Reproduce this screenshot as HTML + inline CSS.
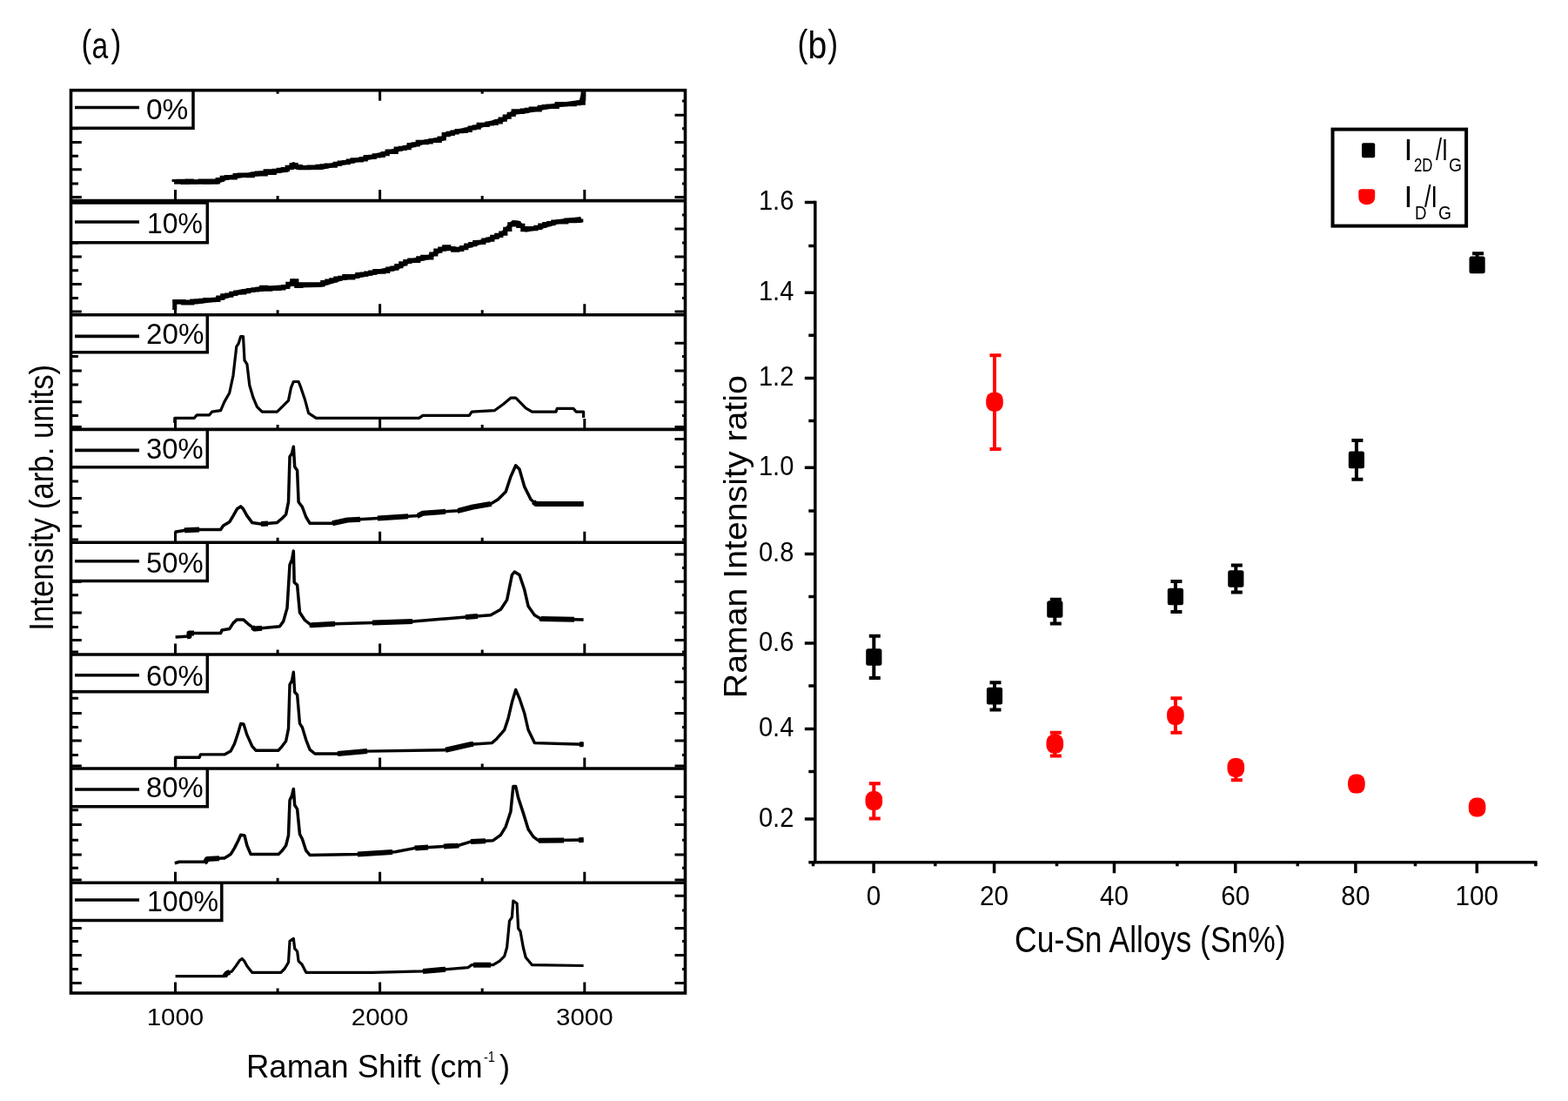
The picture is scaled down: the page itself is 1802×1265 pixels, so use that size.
<!DOCTYPE html>
<html><head><meta charset="utf-8"><title>Raman figure</title>
<style>html,body{margin:0;padding:0;background:#fff;}svg{display:block;}text{font-family:'Liberation Sans', Arial, sans-serif;fill:#000;}</style>
</head><body>
<svg width="1802" height="1265" viewBox="0 0 1802 1265">
<rect width="1802" height="1265" fill="#fff"/>
<path d="M81.5,132.2h12.3M787.5,132.2h-12M81.5,163.5h12.3M787.5,163.5h-12M81.5,194.8h12.3M787.5,194.8h-12M81.5,226.5h12.3M787.5,226.5h-12M81.5,116.0h8.5M787.5,116.0h-3.5M81.5,147.8h8.5M787.5,147.8h-3.5M81.5,179.2h8.5M787.5,179.2h-3.5M81.5,211.0h8.5M787.5,211.0h-3.5M81.5,263.0h12.3M787.5,263.0h-12M81.5,295.0h12.3M787.5,295.0h-12M81.5,326.6h12.3M787.5,326.6h-12M81.5,357.9h12.3M787.5,357.9h-12M81.5,247.0h8.5M787.5,247.0h-3.5M81.5,279.0h8.5M787.5,279.0h-3.5M81.5,310.8h8.5M787.5,310.8h-3.5M81.5,342.4h8.5M787.5,342.4h-3.5M81.5,394.2h12.3M787.5,394.2h-12M81.5,426.0h12.3M787.5,426.0h-12M81.5,461.8h12.3M787.5,461.8h-12M81.5,490.5h12.3M787.5,490.5h-12M81.5,409.6h8.5M787.5,409.6h-3.5M81.5,442.0h8.5M787.5,442.0h-3.5M81.5,477.5h8.5M787.5,477.5h-3.5M81.5,504.6h12.3M787.5,504.6h-12M81.5,536.6h12.3M787.5,536.6h-12M81.5,572.6h12.3M787.5,572.6h-12M81.5,604.4h12.3M787.5,604.4h-12M81.5,521.2h8.5M787.5,521.2h-3.5M81.5,553.0h8.5M787.5,553.0h-3.5M81.5,588.8h8.5M787.5,588.8h-3.5M81.5,620.0h8.5M787.5,620.0h-3.5M81.5,637.0h12.3M787.5,637.0h-12M81.5,668.3h12.3M787.5,668.3h-12M81.5,703.9h12.3M787.5,703.9h-12M81.5,735.4h12.3M787.5,735.4h-12M81.5,652.5h8.5M787.5,652.5h-3.5M81.5,683.7h8.5M787.5,683.7h-3.5M81.5,720.5h8.5M787.5,720.5h-3.5M81.5,749.0h8.5M787.5,749.0h-3.5M81.5,783.4h12.3M787.5,783.4h-12M81.5,819.4h12.3M787.5,819.4h-12M81.5,851.0h12.3M787.5,851.0h-12M81.5,880.0h12.3M787.5,880.0h-12M81.5,768.0h8.5M787.5,768.0h-3.5M81.5,802.3h8.5M787.5,802.3h-3.5M81.5,835.6h8.5M787.5,835.6h-3.5M81.5,867.6h8.5M787.5,867.6h-3.5M81.5,915.4h12.3M787.5,915.4h-12M81.5,947.4h12.3M787.5,947.4h-12M81.5,981.9h12.3M787.5,981.9h-12M81.5,1011.0h12.3M787.5,1011.0h-12M81.5,930.8h8.5M787.5,930.8h-3.5M81.5,965.2h8.5M787.5,965.2h-3.5M81.5,997.3h8.5M787.5,997.3h-3.5M81.5,1029.3h12.3M787.5,1029.3h-12M81.5,1066.5h12.3M787.5,1066.5h-12M81.5,1097.5h12.3M787.5,1097.5h-12M81.5,1129.6h12.3M787.5,1129.6h-12M81.5,1045.9h8.5M787.5,1045.9h-3.5M81.5,1081.5h8.5M787.5,1081.5h-3.5M81.5,1113.5h8.5M787.5,1113.5h-3.5M201.5,230.6v-12.5M436.6,230.6v-12.5M671.8,230.6v-12.5M319.1,230.6v-5.5M554.2,230.6v-5.5M201.5,361.7v-12.5M436.6,361.7v-12.5M671.8,361.7v-12.5M319.1,361.7v-5.5M554.2,361.7v-5.5M201.5,493.4v-12.5M436.6,493.4v-12.5M671.8,493.4v-12.5M319.1,493.4v-5.5M554.2,493.4v-5.5M201.5,623.2v-12.5M436.6,623.2v-12.5M671.8,623.2v-12.5M319.1,623.2v-5.5M554.2,623.2v-5.5M201.5,752.0v-12.5M436.6,752.0v-12.5M671.8,752.0v-12.5M319.1,752.0v-5.5M554.2,752.0v-5.5M201.5,883.0v-12.5M436.6,883.0v-12.5M671.8,883.0v-12.5M319.1,883.0v-5.5M554.2,883.0v-5.5M201.5,1014.2v-12.5M436.6,1014.2v-12.5M671.8,1014.2v-12.5M319.1,1014.2v-5.5M554.2,1014.2v-5.5M201.5,1141.0v-12.5M436.6,1141.0v-12.5M671.8,1141.0v-12.5M319.1,1141.0v-5.5M554.2,1141.0v-5.5M201.5,103.7v12M436.6,103.7v12M671.8,103.7v12M319.1,103.7v4M554.2,103.7v4" stroke="#000" stroke-width="3" fill="none"/>
<rect x="81.5" y="103.7" width="140.5" height="43.6" fill="#fff"/>
<path d="M81.5,147.3H222.0V103.7" fill="none" stroke="#000" stroke-width="3.5"/>
<line x1="86" y1="123.5" x2="160" y2="123.5" stroke="#000" stroke-width="3.6"/>
<text x="168" y="137.0" font-size="33.5" textLength="48.4" lengthAdjust="spacingAndGlyphs">0%</text>
<rect x="81.5" y="230.6" width="156.8" height="48.2" fill="#fff"/>
<path d="M81.5,278.8H238.3V230.6" fill="none" stroke="#000" stroke-width="3.5"/>
<line x1="81.5" y1="233.2" x2="240.0" y2="233.2" stroke="#000" stroke-width="3"/>
<line x1="86" y1="255.0" x2="160" y2="255.0" stroke="#000" stroke-width="3.6"/>
<text x="169" y="268.3" font-size="33.5" textLength="64.0" lengthAdjust="spacingAndGlyphs">10%</text>
<rect x="81.5" y="361.7" width="156.8" height="43.1" fill="#fff"/>
<path d="M81.5,404.8H238.3V361.7" fill="none" stroke="#000" stroke-width="3.5"/>
<line x1="86" y1="386.4" x2="160" y2="386.4" stroke="#000" stroke-width="3.6"/>
<text x="168" y="394.8" font-size="33.5" textLength="66.4" lengthAdjust="spacingAndGlyphs">20%</text>
<rect x="81.5" y="493.4" width="156.8" height="43.4" fill="#fff"/>
<path d="M81.5,536.8H238.3V493.4" fill="none" stroke="#000" stroke-width="3.5"/>
<line x1="86" y1="517.4" x2="160" y2="517.4" stroke="#000" stroke-width="3.6"/>
<text x="168" y="526.6" font-size="33.5" textLength="65.7" lengthAdjust="spacingAndGlyphs">30%</text>
<rect x="81.5" y="623.2" width="156.8" height="44.4" fill="#fff"/>
<path d="M81.5,667.6H238.3V623.2" fill="none" stroke="#000" stroke-width="3.5"/>
<line x1="86" y1="644.7" x2="160" y2="644.7" stroke="#000" stroke-width="3.6"/>
<text x="168" y="657.8" font-size="33.5" textLength="65.7" lengthAdjust="spacingAndGlyphs">50%</text>
<rect x="81.5" y="752.0" width="156.8" height="42.8" fill="#fff"/>
<path d="M81.5,794.8H238.3V752.0" fill="none" stroke="#000" stroke-width="3.5"/>
<line x1="86" y1="775.8" x2="160" y2="775.8" stroke="#000" stroke-width="3.6"/>
<text x="168" y="788.2" font-size="33.5" textLength="65.7" lengthAdjust="spacingAndGlyphs">60%</text>
<rect x="81.5" y="883.0" width="156.8" height="43.8" fill="#fff"/>
<path d="M81.5,926.8H238.3V883.0" fill="none" stroke="#000" stroke-width="3.5"/>
<line x1="86" y1="907.0" x2="160" y2="907.0" stroke="#000" stroke-width="3.6"/>
<text x="168" y="915.5" font-size="33.5" textLength="65.7" lengthAdjust="spacingAndGlyphs">80%</text>
<rect x="81.5" y="1014.2" width="173.3" height="43.4" fill="#fff"/>
<path d="M81.5,1057.6H254.8V1014.2" fill="none" stroke="#000" stroke-width="3.5"/>
<line x1="86" y1="1034.0" x2="160" y2="1034.0" stroke="#000" stroke-width="3.6"/>
<text x="169" y="1047.2" font-size="33.5" textLength="82.2" lengthAdjust="spacingAndGlyphs">100%</text>
<path d="M200.2,209.1 L249.3,209.1 L260.8,203.9 L295.4,199.6 L330.0,195.2 L337.3,188.5 L341.6,192.4 L370.5,192.4 L399.3,186.0 L425.3,180.8 L457.0,172.2 L485.9,163.5 L509.0,159.2 L511.9,154.4 L540.7,147.6 L578.3,137.5 L589.8,129.4 L607.0,127.4 L636.0,121.6 L667.7,117.3 L670.6,107.5" fill="none" stroke="#000" stroke-width="5" stroke-linejoin="round"/>
<path d="M200.2,209.1 L200.2,208.7 L205.2,208.7 L205.2,208.3 L210.2,208.3 L210.2,209.5 L215.2,209.5 L215.2,208.1 L220.2,208.1 L220.2,209.2 L225.2,209.2 L225.2,208.8 L230.2,208.8 L230.2,208.0 L235.2,208.0 L235.2,209.1 L240.2,209.1 L240.2,208.0 L245.2,208.0 L245.2,208.9 L250.2,208.9 L250.2,206.5 L255.2,206.5 L255.2,204.3 L260.2,204.3 L260.2,203.5 L265.2,203.5 L265.2,203.8 L270.2,203.8 L270.2,201.5 L275.2,201.5 L275.2,201.1 L280.2,201.1 L280.2,201.5 L285.2,201.5 L285.2,201.6 L290.2,201.6 L290.2,200.1 L295.2,200.1 L295.2,199.1 L300.2,199.1 L300.2,199.8 L305.2,199.8 L305.2,196.9 L310.2,196.9 L310.2,198.3 L315.2,198.3 L315.2,196.3 L320.2,196.3 L320.2,195.3 L325.2,195.3 L325.2,194.6 L330.2,194.6 L330.2,192.3 L335.2,192.3 L335.2,189.6 L340.2,189.6 L340.2,191.6 L345.2,191.6 L345.2,192.6 L350.2,192.6 L350.2,192.7 L355.2,192.7 L355.2,192.1 L360.2,192.1 L360.2,192.5 L365.2,192.5 L365.2,191.4 L370.2,191.4 L370.2,190.9 L375.2,190.9 L375.2,190.1 L380.2,190.1 L380.2,190.1 L385.2,190.1 L385.2,188.4 L390.2,188.4 L390.2,187.0 L395.2,187.0 L395.2,186.6 L400.2,186.6 L400.2,185.2 L405.2,185.2 L405.2,183.8 L410.2,183.8 L410.2,184.0 L415.2,184.0 L415.2,182.8 L420.2,182.8 L420.2,180.7 L425.2,180.7 L425.2,180.3 L430.2,180.3 L430.2,178.9 L435.2,178.9 L435.2,178.3 L440.2,178.3 L440.2,176.6 L445.2,176.6 L445.2,174.2 L450.2,174.2 L450.2,174.5 L455.2,174.5 L455.2,171.1 L460.2,171.1 L460.2,170.3 L465.2,170.3 L465.2,169.6 L470.2,169.6 L470.2,166.6 L475.2,166.6 L475.2,165.9 L480.2,165.9 L480.2,163.4 L485.2,163.4 L485.2,163.6 L490.2,163.6 L490.2,162.9 L495.2,162.9 L495.2,161.5 L500.2,161.5 L500.2,161.3 L505.2,161.3 L505.2,159.0 L510.2,159.0 L510.2,154.7 L515.2,154.7 L515.2,153.3 L520.2,153.3 L520.2,152.0 L525.2,152.0 L525.2,150.6 L530.2,150.6 L530.2,150.3 L535.2,150.3 L535.2,149.4 L540.2,149.4 L540.2,147.0 L545.2,147.0 L545.2,146.1 L550.2,146.1 L550.2,143.3 L555.2,143.3 L555.2,143.5 L560.2,143.5 L560.2,142.0 L565.2,142.0 L565.2,141.5 L570.2,141.5 L570.2,139.8 L575.2,139.8 L575.2,137.1 L580.2,137.1 L580.2,134.1 L585.2,134.1 L585.2,131.3 L590.2,131.3 L590.2,127.9 L595.2,127.9 L595.2,128.4 L600.2,128.4 L600.2,127.1 L605.2,127.1 L605.2,126.3 L610.2,126.3 L610.2,125.2 L615.2,125.2 L615.2,125.9 L620.2,125.9 L620.2,123.4 L625.2,123.4 L625.2,122.7 L630.2,122.7 L630.2,122.0 L635.2,122.0 L635.2,122.3 L640.2,122.3 L640.2,119.7 L645.2,119.7 L645.2,119.9 L650.2,119.9 L650.2,119.5 L655.2,119.5 L655.2,119.6 L660.2,119.6 L660.2,118.7 L665.2,118.7 L665.2,118.2 L670.2,118.2 L670.2,107.6 L670.6,107.6 L670.6,107.5" fill="none" stroke="#000" stroke-width="5.2" stroke-linejoin="miter"/>
<path d="M200.8,356.0 L200.8,346.9 L226.2,346.9 L249.3,344.0 L275.2,335.3 L301.2,331.6 L330.0,329.6 L337.3,322.9 L343.0,328.1 L367.6,327.5 L393.6,319.5 L416.7,316.0 L434.0,312.3 L457.0,307.3 L468.6,300.7 L491.7,295.8 L510.4,284.8 L526.3,286.3 L549.4,279.1 L575.4,270.4 L589.8,255.4 L595.6,256.0 L604.2,264.0 L618.7,261.7 L641.8,254.5 L667.7,251.6" fill="none" stroke="#000" stroke-width="5" stroke-linejoin="round"/>
<path d="M200.8,346.9 L200.8,346.7 L205.8,346.7 L205.8,346.6 L210.8,346.6 L210.8,347.8 L215.8,347.8 L215.8,348.0 L220.8,348.0 L220.8,346.1 L225.8,346.1 L225.8,345.9 L230.8,345.9 L230.8,345.4 L235.8,345.4 L235.8,344.7 L240.8,344.7 L240.8,344.7 L245.8,344.7 L245.8,344.3 L250.8,344.3 L250.8,342.1 L255.8,342.1 L255.8,339.8 L260.8,339.8 L260.8,339.1 L265.8,339.1 L265.8,337.3 L270.8,337.3 L270.8,336.1 L275.8,336.1 L275.8,335.9 L280.8,335.9 L280.8,334.6 L285.8,334.6 L285.8,333.5 L290.8,333.5 L290.8,333.0 L295.8,333.0 L295.8,332.4 L300.8,332.4 L300.8,330.4 L305.8,330.4 L305.8,332.1 L310.8,332.1 L310.8,331.4 L315.8,331.4 L315.8,331.3 L320.8,331.3 L320.8,330.8 L325.8,330.8 L325.8,329.5 L330.8,329.5 L330.8,326.3 L335.8,326.3 L335.8,322.9 L340.8,322.9 L340.8,328.4 L345.8,328.4 L345.8,326.9 L350.8,326.9 L350.8,326.8 L355.8,326.8 L355.8,327.0 L360.8,327.0 L360.8,326.8 L365.8,326.8 L365.8,326.9 L370.8,326.9 L370.8,324.7 L375.8,324.7 L375.8,323.0 L380.8,323.0 L380.8,321.8 L385.8,321.8 L385.8,320.2 L390.8,320.2 L390.8,319.3 L395.8,319.3 L395.8,317.6 L400.8,317.6 L400.8,318.9 L405.8,318.9 L405.8,317.5 L410.8,317.5 L410.8,315.7 L415.8,315.7 L415.8,315.1 L420.8,315.1 L420.8,314.2 L425.8,314.2 L425.8,313.2 L430.8,313.2 L430.8,311.5 L435.8,311.5 L435.8,312.2 L440.8,312.2 L440.8,311.5 L445.8,311.5 L445.8,309.1 L450.8,309.1 L450.8,308.1 L455.8,308.1 L455.8,305.6 L460.8,305.6 L460.8,302.8 L465.8,302.8 L465.8,300.5 L470.8,300.5 L470.8,299.1 L475.8,299.1 L475.8,299.4 L480.8,299.4 L480.8,296.8 L485.8,296.8 L485.8,295.4 L490.8,295.4 L490.8,295.9 L495.8,295.9 L495.8,292.0 L500.8,292.0 L500.8,288.1 L505.8,288.1 L505.8,286.1 L510.8,286.1 L510.8,283.9 L515.8,283.9 L515.8,285.6 L520.8,285.6 L520.8,287.2 L525.8,287.2 L525.8,286.5 L530.8,286.5 L530.8,284.6 L535.8,284.6 L535.8,282.0 L540.8,282.0 L540.8,280.7 L545.8,280.7 L545.8,278.6 L550.8,278.6 L550.8,278.4 L555.8,278.4 L555.8,276.2 L560.8,276.2 L560.8,275.1 L565.8,275.1 L565.8,272.4 L570.8,272.4 L570.8,270.4 L575.8,270.4 L575.8,268.1 L580.8,268.1 L580.8,263.3 L585.8,263.3 L585.8,257.8 L590.8,257.8 L590.8,256.5 L595.8,256.5 L595.8,259.3 L600.8,259.3 L600.8,263.7 L605.8,263.7 L605.8,262.7 L610.8,262.7 L610.8,262.6 L615.8,262.6 L615.8,261.4 L620.8,261.4 L620.8,259.1 L625.8,259.1 L625.8,257.6 L630.8,257.6 L630.8,256.6 L635.8,256.6 L635.8,255.0 L640.8,255.0 L640.8,254.8 L645.8,254.8 L645.8,254.9 L650.8,254.9 L650.8,253.1 L655.8,253.1 L655.8,253.7 L660.8,253.7 L660.8,253.3 L665.8,253.3 L665.8,252.8 L667.7,252.8 L667.7,251.6" fill="none" stroke="#000" stroke-width="5.2" stroke-linejoin="miter"/>
<path d="M200.8,356L200.8,346.9" stroke="#000" stroke-width="4"/>
<path d="M200.8,486.0 L200.8,480.3 L223.3,480.3 L226.2,476.9 L240.6,476.9 L243.5,473.1 L253.6,471.7 L257.9,461.6 L263.7,451.5 L268.0,431.3 L271.8,398.1 L274.0,395.0 L276.7,386.5 L279.5,386.5 L281.0,414.0 L283.9,418.3 L286.8,442.8 L291.1,457.2 L295.4,467.3 L301.2,473.1 L318.5,473.1 L324.3,467.3 L331.5,460.1 L334.4,445.7 L337.3,438.5 L343.1,438.5 L345.9,445.7 L350.3,458.7 L354.6,474.6 L363.3,480.3 L434.0,480.3 L481.6,480.3 L485.9,477.4 L539.3,477.4 L542.2,473.1 L568.2,471.7 L578.3,464.5 L586.9,457.2 L592.7,457.2 L604.2,468.8 L611.5,473.1 L638.9,473.1 L640.3,469.4 L659.1,469.4 L662.0,473.1 L670.6,473.1 L670.6,480.0" fill="none" stroke="#000" stroke-width="3.2" stroke-linejoin="round"/>
<path d="M200.8,611.3 L213.2,609.3 L229.1,608.4 L253.6,608.4 L256.5,604.1 L263.7,599.8 L268.0,592.6 L272.4,584.8 L276.7,581.9 L279.6,584.8 L283.9,592.6 L289.7,600.4 L299.8,602.1 L318.5,600.4 L324.3,595.5 L328.6,591.1 L331.5,576.7 L333.0,524.7 L335.5,521.0 L337.3,513.2 L338.7,536.3 L341.6,540.6 L343.1,576.7 L347.4,582.5 L351.7,594.0 L356.0,601.2 L382.0,601.2 L399.3,597.5 L434.0,595.5 L480.1,592.6 L485.9,589.7 L526.3,586.8 L543.6,582.5 L563.8,579.0 L572.5,573.8 L581.2,565.1 L586.9,547.8 L592.7,534.8 L597.0,539.2 L602.8,559.4 L610.0,573.8 L615.8,579.0 L670.6,579.0" fill="none" stroke="#000" stroke-width="3.5" stroke-linejoin="round"/>
<path d="M212.0,609.5 L213.2,609.3 L229.0,608.4" fill="none" stroke="#000" stroke-width="6" stroke-linejoin="round"/>
<path d="M300.0,602.1 L308.0,601.4" fill="none" stroke="#000" stroke-width="6" stroke-linejoin="round"/>
<path d="M382.0,601.2 L399.3,597.5 L414.0,596.7" fill="none" stroke="#000" stroke-width="6" stroke-linejoin="round"/>
<path d="M434.0,595.5 L469.0,593.3" fill="none" stroke="#000" stroke-width="6" stroke-linejoin="round"/>
<path d="M480.0,592.6 L480.1,592.6 L485.9,589.7 L512.0,587.8" fill="none" stroke="#000" stroke-width="6" stroke-linejoin="round"/>
<path d="M526.0,586.8 L526.3,586.8 L543.6,582.5 L563.8,579.0 L564.0,578.9" fill="none" stroke="#000" stroke-width="6" stroke-linejoin="round"/>
<path d="M613.0,576.5 L615.8,579.0 L670.6,579.0" fill="none" stroke="#000" stroke-width="6" stroke-linejoin="round"/>
<path d="M201.6,732.1 L217.5,731.0 L217.5,727.5 L253.6,727.5 L255.0,724.0 L263.7,722.6 L268.0,715.9 L272.4,711.9 L279.6,711.9 L286.8,718.2 L292.6,722.6 L321.4,719.7 L325.7,713.9 L330.0,698.6 L333.0,649.0 L335.5,643.0 L337.3,633.1 L338.2,669.2 L341.6,672.1 L344.5,703.8 L350.3,712.5 L357.5,718.2 L384.9,716.8 L428.2,715.4 L474.4,713.9 L535.0,709.0 L563.8,706.7 L575.4,700.3 L582.6,689.4 L588.4,660.5 L591.3,657.0 L597.0,660.5 L602.8,677.8 L607.1,696.6 L614.3,706.7 L621.6,711.0 L670.6,711.9" fill="none" stroke="#000" stroke-width="3.5" stroke-linejoin="round"/>
<path d="M215.0,731.2 L217.5,731.0 L217.5,727.5 L223.0,727.5" fill="none" stroke="#000" stroke-width="6" stroke-linejoin="round"/>
<path d="M290.0,720.6 L292.6,722.6 L301.0,721.8" fill="none" stroke="#000" stroke-width="6" stroke-linejoin="round"/>
<path d="M357.0,717.8 L357.5,718.2 L384.9,716.8 L385.0,716.8" fill="none" stroke="#000" stroke-width="6" stroke-linejoin="round"/>
<path d="M428.0,715.4 L428.2,715.4 L474.0,713.9" fill="none" stroke="#000" stroke-width="6" stroke-linejoin="round"/>
<path d="M535.0,709.0 L549.0,707.9" fill="none" stroke="#000" stroke-width="6" stroke-linejoin="round"/>
<path d="M621.0,710.6 L621.6,711.0 L660.0,711.7" fill="none" stroke="#000" stroke-width="6" stroke-linejoin="round"/>
<path d="M201.6,880.0 L201.6,870.3 L229.1,870.3 L230.5,866.9 L257.9,866.9 L265.1,863.1 L269.5,854.5 L273.8,841.5 L276.7,831.4 L280.0,832.0 L283.9,844.4 L289.7,857.3 L294.0,862.2 L320.0,862.2 L324.3,857.3 L328.6,851.6 L331.5,837.1 L333.0,786.6 L335.5,782.0 L337.3,772.2 L338.7,795.3 L341.6,798.2 L344.5,831.4 L347.4,835.7 L351.7,850.1 L356.0,861.1 L361.8,866.0 L387.8,866.0 L422.4,863.1 L511.9,861.7 L540.7,855.3 L565.3,853.6 L571.0,848.7 L579.7,838.6 L584.0,825.6 L588.4,806.8 L592.7,792.4 L597.0,802.5 L602.8,819.8 L607.1,838.6 L614.3,853.6 L670.6,855.3" fill="none" stroke="#000" stroke-width="3.4" stroke-linejoin="round"/>
<path d="M388.0,866.0 L422.0,863.1" fill="none" stroke="#000" stroke-width="6" stroke-linejoin="round"/>
<path d="M512.0,861.7 L540.7,855.3 L544.0,855.1" fill="none" stroke="#000" stroke-width="6" stroke-linejoin="round"/>
<path d="M666.0,855.2 L670.6,855.3" fill="none" stroke="#000" stroke-width="6" stroke-linejoin="round"/>
<path d="M200.8,991.7 L206.0,990.2 L236.3,990.2 L238.0,987.0 L257.9,985.9 L265.1,981.6 L269.5,974.4 L273.8,965.7 L276.7,959.3 L281.0,960.0 L283.9,971.5 L288.2,981.6 L320.0,981.6 L324.3,977.2 L328.6,971.5 L331.5,959.9 L333.0,919.5 L335.5,914.0 L337.3,906.5 L338.7,925.0 L341.6,929.6 L344.5,958.5 L347.4,964.0 L351.7,977.2 L356.0,982.4 L410.9,981.6 L454.2,978.7 L477.3,974.4 L526.3,971.5 L540.7,967.1 L566.7,965.7 L575.4,959.3 L581.2,949.8 L586.9,932.5 L589.8,903.6 L592.7,903.6 L595.6,916.6 L601.3,933.9 L607.1,952.7 L612.9,961.4 L618.7,965.7 L670.6,965.1" fill="none" stroke="#000" stroke-width="3.5" stroke-linejoin="round"/>
<path d="M236.0,990.2 L236.3,990.2 L238.0,987.0 L252.0,986.2" fill="none" stroke="#000" stroke-width="6" stroke-linejoin="round"/>
<path d="M411.0,981.6 L451.0,978.9" fill="none" stroke="#000" stroke-width="6" stroke-linejoin="round"/>
<path d="M477.0,974.5 L477.3,974.4 L492.0,973.5" fill="none" stroke="#000" stroke-width="6" stroke-linejoin="round"/>
<path d="M510.0,972.5 L526.3,971.5 L527.0,971.3" fill="none" stroke="#000" stroke-width="6" stroke-linejoin="round"/>
<path d="M541.0,967.1 L558.0,966.2" fill="none" stroke="#000" stroke-width="6" stroke-linejoin="round"/>
<path d="M619.0,965.7 L648.0,965.4" fill="none" stroke="#000" stroke-width="6" stroke-linejoin="round"/>
<path d="M665.0,965.2 L670.6,965.1" fill="none" stroke="#000" stroke-width="6" stroke-linejoin="round"/>
<path d="M201.6,1121.7 L257.9,1121.7 L260.8,1118.2 L266.6,1115.9 L270.9,1110.1 L275.2,1103.8 L278.1,1101.5 L280.5,1103.8 L283.9,1110.1 L289.7,1117.3 L322.9,1117.3 L327.2,1113.0 L331.5,1105.8 L333.0,1081.3 L337.3,1078.4 L338.7,1089.9 L341.6,1093.0 L343.1,1104.4 L347.0,1108.0 L351.7,1117.3 L428.2,1117.3 L485.9,1115.9 L537.9,1111.6 L542.2,1108.7 L566.7,1108.7 L573.9,1104.4 L579.7,1098.6 L582.6,1088.5 L585.5,1058.2 L588.4,1053.8 L589.8,1035.1 L594.1,1038.0 L595.6,1066.8 L598.0,1070.0 L601.3,1088.5 L604.2,1100.0 L611.5,1108.7 L670.6,1109.5" fill="none" stroke="#000" stroke-width="3.2" stroke-linejoin="round"/>
<path d="M258.0,1121.6 L260.8,1118.2 L264.0,1116.9" fill="none" stroke="#000" stroke-width="6" stroke-linejoin="round"/>
<path d="M486.0,1115.9 L512.0,1113.7" fill="none" stroke="#000" stroke-width="6" stroke-linejoin="round"/>
<path d="M544.0,1108.7 L564.0,1108.7" fill="none" stroke="#000" stroke-width="6" stroke-linejoin="round"/>
<rect x="81.5" y="103.7" width="706.0" height="1037.3" fill="none" stroke="#000" stroke-width="3.6"/>
<line x1="81.5" y1="230.6" x2="787.5" y2="230.6" stroke="#000" stroke-width="3.6"/>
<line x1="81.5" y1="361.7" x2="787.5" y2="361.7" stroke="#000" stroke-width="3.6"/>
<line x1="81.5" y1="493.4" x2="787.5" y2="493.4" stroke="#000" stroke-width="3.6"/>
<line x1="81.5" y1="623.2" x2="787.5" y2="623.2" stroke="#000" stroke-width="3.6"/>
<line x1="81.5" y1="752.0" x2="787.5" y2="752.0" stroke="#000" stroke-width="3.6"/>
<line x1="81.5" y1="883.0" x2="787.5" y2="883.0" stroke="#000" stroke-width="3.6"/>
<line x1="81.5" y1="1014.2" x2="787.5" y2="1014.2" stroke="#000" stroke-width="3.6"/>
<text x="201.5" y="1177.8" font-size="28" text-anchor="middle" textLength="65.5" lengthAdjust="spacingAndGlyphs">1000</text>
<text x="436.6" y="1177.8" font-size="28" text-anchor="middle" textLength="65.5" lengthAdjust="spacingAndGlyphs">2000</text>
<text x="671.8" y="1177.8" font-size="28" text-anchor="middle" textLength="65.5" lengthAdjust="spacingAndGlyphs">3000</text>
<text x="283" y="1238" font-size="36.5" textLength="271.7" lengthAdjust="spacingAndGlyphs">Raman Shift (cm</text>
<text x="556" y="1220" font-size="17" textLength="13" lengthAdjust="spacingAndGlyphs">-1</text>
<text x="574" y="1238" font-size="36.5">)</text>
<text transform="translate(60.6,724.8) rotate(-90)" x="0" y="0" font-size="38.5" textLength="306" lengthAdjust="spacingAndGlyphs">Intensity (arb. units)</text>
<text x="93.5" y="65.2" font-size="44.4" textLength="11.83" lengthAdjust="spacingAndGlyphs">(</text>
<text x="105.6" y="66.5" font-size="42" textLength="18.7" lengthAdjust="spacingAndGlyphs">a</text>
<text x="127.5" y="65.2" font-size="44.4" textLength="11.83" lengthAdjust="spacingAndGlyphs">)</text>
<text x="916.4" y="65.2" font-size="44.4" textLength="11.83" lengthAdjust="spacingAndGlyphs">(</text>
<text x="928.6" y="66.5" font-size="44.4" textLength="21.7" lengthAdjust="spacingAndGlyphs">b</text>
<text x="951.3" y="65.2" font-size="44.4" textLength="11.83" lengthAdjust="spacingAndGlyphs">)</text>
<path d="M936.8,230.79999999999998V990.8H1766.5" fill="none" stroke="#000" stroke-width="3.5"/>
<path d="M936.8,940.9h-12M936.8,837.6h-12M936.8,739.1h-12M936.8,636.4h-12M936.8,537.3h-12M936.8,434.5h-12M936.8,336.2h-12M936.8,232.6h-12M936.8,990.8h-7.5M936.8,886.4h-7.5M936.8,788.1h-7.5M936.8,685.4h-7.5M936.8,587.1h-7.5M936.8,483.5h-7.5M936.8,385.2h-7.5M936.8,282.5h-7.5M1004.1,990.8v12.5M1142.6,990.8v12.5M1280.5,990.8v12.5M1419.8,990.8v12.5M1557.9,990.8v12.5M1697.3,990.8v12.5M934.5,990.8v4.5M1074.8,990.8v4.5M1214.5,990.8v4.5M1352.9,990.8v4.5M1491.3,990.8v4.5M1626.5,990.8v4.5M1764.9,990.8v4.5" stroke="#000" stroke-width="3.5" fill="none"/>
<text x="912.3" y="949.6" font-size="32" text-anchor="end" textLength="40.3" lengthAdjust="spacingAndGlyphs">0.2</text>
<text x="912.3" y="846.3" font-size="32" text-anchor="end" textLength="40.3" lengthAdjust="spacingAndGlyphs">0.4</text>
<text x="912.3" y="747.8" font-size="32" text-anchor="end" textLength="40.3" lengthAdjust="spacingAndGlyphs">0.6</text>
<text x="912.3" y="645.1" font-size="32" text-anchor="end" textLength="40.3" lengthAdjust="spacingAndGlyphs">0.8</text>
<text x="912.3" y="546.0" font-size="32" text-anchor="end" textLength="40.3" lengthAdjust="spacingAndGlyphs">1.0</text>
<text x="912.3" y="443.2" font-size="32" text-anchor="end" textLength="40.3" lengthAdjust="spacingAndGlyphs">1.2</text>
<text x="912.3" y="344.9" font-size="32" text-anchor="end" textLength="40.3" lengthAdjust="spacingAndGlyphs">1.4</text>
<text x="912.3" y="241.3" font-size="32" text-anchor="end" textLength="40.3" lengthAdjust="spacingAndGlyphs">1.6</text>
<text x="1004.1" y="1039.6" font-size="32" text-anchor="middle" textLength="16.5" lengthAdjust="spacingAndGlyphs">0</text>
<text x="1142.6" y="1039.6" font-size="32" text-anchor="middle" textLength="33.1" lengthAdjust="spacingAndGlyphs">20</text>
<text x="1280.5" y="1039.6" font-size="32" text-anchor="middle" textLength="33.1" lengthAdjust="spacingAndGlyphs">40</text>
<text x="1419.8" y="1039.6" font-size="32" text-anchor="middle" textLength="33.1" lengthAdjust="spacingAndGlyphs">60</text>
<text x="1557.9" y="1039.6" font-size="32" text-anchor="middle" textLength="33.1" lengthAdjust="spacingAndGlyphs">80</text>
<text x="1697.3" y="1039.6" font-size="32" text-anchor="middle" textLength="49.6" lengthAdjust="spacingAndGlyphs">100</text>
<text x="1166" y="1094" font-size="42" textLength="311.7" lengthAdjust="spacingAndGlyphs">Cu-Sn Alloys (Sn%)</text>
<text transform="translate(857.5,802.2) rotate(-90)" x="0" y="0" font-size="37.5" textLength="371" lengthAdjust="spacingAndGlyphs">Raman  Intensity ratio</text>
<path d="M1004.3,730.8V779.0M998.8,730.8h13M998.8,779.0h13" stroke="#000" stroke-width="4" fill="none"/>
<rect x="995.2" y="745.2" width="18.2" height="19.6" rx="2.5" fill="#000"/>
<path d="M1143.0,784.2V815.5M1137.5,784.2h13M1137.5,815.5h13" stroke="#000" stroke-width="4" fill="none"/>
<rect x="1133.9" y="789.8" width="18.2" height="19.6" rx="2.5" fill="#000"/>
<path d="M1212.3,688.7V716.5M1206.8,688.7h13M1206.8,716.5h13" stroke="#000" stroke-width="4" fill="none"/>
<rect x="1203.2" y="690.2" width="18.2" height="19.6" rx="2.5" fill="#000"/>
<path d="M1350.9,668.0V703.0M1345.4,668.0h13M1345.4,703.0h13" stroke="#000" stroke-width="4" fill="none"/>
<rect x="1341.8" y="675.7" width="18.2" height="19.6" rx="2.5" fill="#000"/>
<path d="M1420.3,649.6V680.6M1414.8,649.6h13M1414.8,680.6h13" stroke="#000" stroke-width="4" fill="none"/>
<rect x="1411.2" y="655.2" width="18.2" height="19.6" rx="2.5" fill="#000"/>
<path d="M1558.9,506.0V550.7M1553.4,506.0h13M1553.4,550.7h13" stroke="#000" stroke-width="4" fill="none"/>
<rect x="1549.8" y="518.6" width="18.2" height="19.6" rx="2.5" fill="#000"/>
<path d="M1697.6,291.2V312.0M1692.1,291.2h13M1692.1,312.0h13" stroke="#000" stroke-width="4" fill="none"/>
<rect x="1688.5" y="294.6" width="18.2" height="19.6" rx="2.5" fill="#000"/>
<path d="M1004.3,900.2V940.4M998.8,900.2h13M998.8,940.4h13" stroke="#ff0000" stroke-width="4" fill="none"/>
<rect x="994.5" y="909.0" width="19.6" height="22" rx="8" ry="9" fill="#ff0000"/>
<path d="M1143.0,408.2V515.9M1137.5,408.2h13M1137.5,515.9h13" stroke="#ff0000" stroke-width="4" fill="none"/>
<rect x="1133.2" y="450.7" width="19.6" height="22" rx="8" ry="9" fill="#ff0000"/>
<path d="M1212.3,841.8V868.5M1206.8,841.8h13M1206.8,868.5h13" stroke="#ff0000" stroke-width="4" fill="none"/>
<rect x="1202.5" y="843.6" width="19.6" height="22" rx="8" ry="9" fill="#ff0000"/>
<path d="M1350.9,802.3V841.8M1345.4,802.3h13M1345.4,841.8h13" stroke="#ff0000" stroke-width="4" fill="none"/>
<rect x="1341.1" y="811.0" width="19.6" height="22" rx="8" ry="9" fill="#ff0000"/>
<path d="M1420.3,875.0V896.2M1414.8,875.0h13M1414.8,896.2h13" stroke="#ff0000" stroke-width="4" fill="none"/>
<rect x="1410.5" y="871.0" width="19.6" height="22" rx="8" ry="9" fill="#ff0000"/>
<path d="M1558.9,895.0V907.0M1553.4,895.0h13M1553.4,907.0h13" stroke="#ff0000" stroke-width="4" fill="none"/>
<rect x="1549.1" y="889.6" width="19.6" height="22" rx="8" ry="9" fill="#ff0000"/>
<path d="M1697.6,922.0V933.0M1692.1,922.0h13M1692.1,933.0h13" stroke="#ff0000" stroke-width="4" fill="none"/>
<rect x="1687.8" y="916.5" width="19.6" height="22" rx="8" ry="9" fill="#ff0000"/>
<rect x="1531.5" y="148.6" width="153.6" height="111" fill="none" stroke="#000" stroke-width="4"/>
<rect x="1565" y="164.2" width="15.2" height="17" rx="2" fill="#000"/>
<path d="M1561.3,220.5Q1561.3,217.2 1565,217.2H1576.5Q1580.2,217.2 1580.2,220.5V226C1580.2,231.8 1576.5,235.2 1570.8,235.2C1565,235.2 1561.3,231.8 1561.3,226Z" fill="#ff0000"/>
<text x="1613.5" y="184.4" font-size="35.8">I</text>
<text x="1625" y="197" font-size="22.6" textLength="21.5" lengthAdjust="spacingAndGlyphs">2D</text>
<text x="1650" y="184.4" font-size="35.8" textLength="14" lengthAdjust="spacingAndGlyphs">/I</text>
<text x="1665" y="197.4" font-size="22.6" textLength="15" lengthAdjust="spacingAndGlyphs">G</text>
<text x="1613.5" y="237.5" font-size="35.8">I</text>
<text x="1626" y="252" font-size="22.6" textLength="13.5" lengthAdjust="spacingAndGlyphs">D</text>
<text x="1637" y="237.5" font-size="35.8" textLength="15" lengthAdjust="spacingAndGlyphs">/I</text>
<text x="1653" y="252.2" font-size="22.6" textLength="15" lengthAdjust="spacingAndGlyphs">G</text>
</svg>
</body></html>
